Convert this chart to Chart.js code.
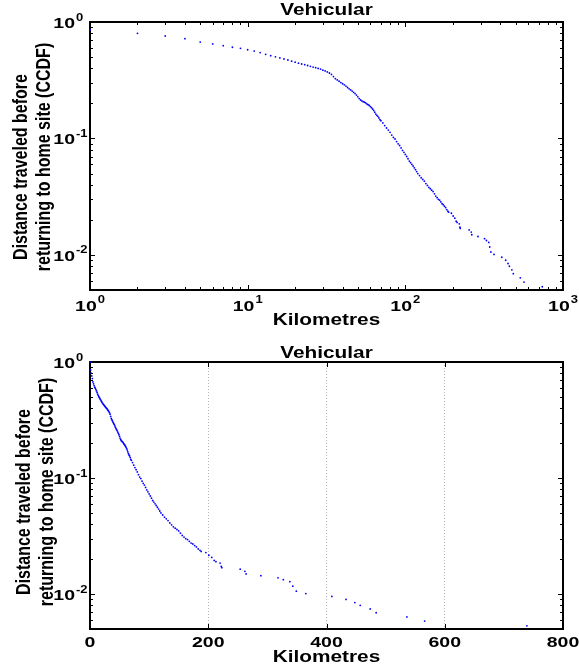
<!DOCTYPE html>
<html>
<head>
<meta charset="utf-8">
<title>Vehicular CCDF</title>
<script src="https://cdn.jsdelivr.net/npm/chart.js@4.4.0/dist/chart.umd.min.js"></script>
<style>
  body { margin: 0; background: #fff; }
  #wrap { position: relative; width: 579px; height: 671px; }
  .panel { position: absolute; left: 0; width: 579px; }
</style>
</head>
<body>
<div id="wrap">
  <div class="panel" style="top:0;height:335px"><canvas id="logChart"></canvas></div>
  <div class="panel" style="top:335px;height:336px"><canvas id="linChart"></canvas></div>
</div>
<script>
"use strict";

// Distance (km) and CCDF
const km = [0, 1, 2, 3, 4, 5, 6, 7, 8, 9, 10, 11, 12, 13, 14, 15, 16, 17, 18, 19, 20,
  21, 22, 23, 24, 25, 26, 27, 28, 29, 30,
  31, 32, 33, 34, 35, 36, 37, 38, 39, 40, 41, 42, 43, 44, 45, 46, 47, 48, 49, 50,
  51, 52, 53, 54, 55, 56, 57, 58, 59, 60, 61, 62, 63, 64, 65, 66, 67, 68, 69, 70,
  72, 74, 76, 78, 80, 82, 84, 86, 88, 90, 92, 94, 96, 98, 100, 102, 104, 106, 108, 110,
  112, 114, 116, 118, 120,
  123, 126, 129, 132, 135, 138, 141, 144, 147, 150, 153, 156, 159, 162, 165, 168, 171,
  174, 177, 180, 183, 186,
  188, 196, 201, 206, 210, 213, 220, 222, 223, 254, 262, 264, 289, 318, 327, 338, 343,
  349, 365, 409, 433, 448, 457, 474, 484, 536, 566, 739];
const ccdf = [1.0, 0.854, 0.80, 0.758, 0.719, 0.673, 0.648, 0.626, 0.607, 0.594, 0.578,
  0.563, 0.546, 0.528, 0.514, 0.502, 0.492, 0.481, 0.472, 0.461, 0.452,
  0.443, 0.436, 0.430, 0.423, 0.416, 0.410, 0.405, 0.399, 0.394, 0.386,
  0.380, 0.373, 0.365, 0.355, 0.340, 0.326, 0.318, 0.310, 0.302, 0.295,
  0.289, 0.282, 0.274, 0.267, 0.261, 0.255, 0.249, 0.243, 0.236, 0.228,
  0.220, 0.214, 0.210, 0.207, 0.205, 0.202, 0.198, 0.195, 0.192, 0.188,
  0.184, 0.179, 0.174, 0.168, 0.162, 0.158, 0.155, 0.150, 0.145, 0.142,
  0.136, 0.129, 0.123, 0.118, 0.113, 0.107, 0.102, 0.099, 0.094, 0.090,
  0.087, 0.083, 0.079, 0.076, 0.073, 0.070, 0.067, 0.064, 0.062, 0.060,
  0.058, 0.056, 0.054, 0.052, 0.050,
  0.048, 0.046, 0.0445, 0.043, 0.041, 0.0395, 0.038, 0.037, 0.036, 0.035,
  0.0335, 0.032, 0.031, 0.030, 0.0295, 0.0285, 0.0275, 0.027, 0.0262, 0.0255,
  0.0245, 0.0238,
  0.0233, 0.0228, 0.0216, 0.0207, 0.0195, 0.0190, 0.0185, 0.0173, 0.0169,
  0.0164, 0.0157, 0.0149, 0.0144, 0.0138, 0.0133, 0.0128, 0.0117, 0.0106, 0.0101,
  0.00955, 0.0090, 0.00844, 0.0080, 0.00745, 0.0069, 0.00636, 0.00585, 0.00533];

const logXTicks = [1, 10, 100, 1000];
const logYTicks = [0.01, 0.1, 1];
const linXTicks = [0, 200, 400, 600, 800];

const chartTitle = 'Vehicular';
const xTitle = 'Kilometres';
const yTitle = ['Distance traveled before', 'returning to home site (CCDF)'];

// the original figure's lettering is widened horizontally
const SX = 1.3;
const FONT = '"Liberation Sans", Arial, sans-serif';

function text(ctx, str, x, y, size, align, rotate) {
    ctx.save();
    ctx.translate(x, y);
    ctx.scale(SX, 1);
    if (rotate) ctx.rotate(-Math.PI / 2);
    ctx.font = 'bold ' + size + 'px ' + FONT;
    ctx.textAlign = align;
    ctx.textBaseline = 'alphabetic';
    ctx.fillText(str, 0, 0);
    ctx.restore();
}

function textWidth(ctx, str, size) {
    ctx.font = 'bold ' + size + 'px ' + FONT;
    return ctx.measureText(str).width * SX;
}

// "10" with a raised exponent
function power(ctx, v, x, y, align) {
    const exp = String(Math.round(Math.log10(v)));
    const wb = textWidth(ctx, '10', 15);
    const we = textWidth(ctx, exp, 10);
    const x0 = align === 'center' ? x - (wb + 1 + we) / 2 : x - wb;
    text(ctx, '10', x0, y, 15, 'left');
    text(ctx, exp, x0 + wb + 1, y - 7.5, 10, 'left');
}

// majors plus the 2..9 minor steps of each decade
function logTickList(majors, min, max) {
    const list = [];
    const starts = [majors[0] / 10].concat(majors);
    starts.forEach(function (m, i) {
        if (i > 0) list.push({ value: m, major: true });
        for (let k = 2; k <= 9; k++) {
            const v = +(m * k).toPrecision(6);
            if (v > min && v < max) list.push({ value: v, major: false });
        }
    });
    return list;
}

// box and inward ticks on all sides go under the dots,
// tick labels and titles are written around the plot
const frame = {
    id: 'frame',
    beforeDatasetsDraw(chart, args, o) {
        const ctx = chart.ctx;
        const a = chart.chartArea;
        const x = chart.scales.x, y = chart.scales.y;
        ctx.save();
        ctx.strokeStyle = '#000';
        ctx.lineWidth = 1;
        ctx.beginPath();
        x.ticks.forEach(function (t) {
            const px = Math.round(x.getPixelForValue(t.value)) + 0.5;
            const len = t.major ? 5 : 3;
            ctx.moveTo(px, a.bottom); ctx.lineTo(px, a.bottom - len);
            ctx.moveTo(px, a.top); ctx.lineTo(px, a.top + len);
        });
        y.ticks.forEach(function (t) {
            const py = Math.round(y.getPixelForValue(t.value)) + 0.5;
            const len = t.major ? 5 : 3;
            ctx.moveTo(a.left, py); ctx.lineTo(a.left + len, py);
            ctx.moveTo(a.right, py); ctx.lineTo(a.right - len, py);
        });
        ctx.stroke();
        ctx.lineWidth = 2;
        ctx.strokeRect(a.left, a.top, a.right - a.left, a.bottom - a.top);

        ctx.fillStyle = '#000';
        x.ticks.filter(t => t.major).forEach(function (t) {
            const px = x.getPixelForValue(t.value);
            if (o.xLog) power(ctx, t.value, px, o.xLabelY, 'center');
            else text(ctx, String(t.value), px, o.xLabelY, 15, 'center');
        });
        y.ticks.filter(t => t.major).forEach(function (t) {
            power(ctx, t.value, 75, y.getPixelForValue(t.value) + 6, 'right');
        });

        const cx = (a.left + a.right) / 2;
        text(ctx, chartTitle, cx, o.titleY, 16, 'center');
        text(ctx, xTitle, cx, o.xTitleY, 16, 'center');
        text(ctx, yTitle[0], o.yTitleX[0], 167, 16, 'center', true);
        text(ctx, yTitle[1], o.yTitleX[1], 157, 16, 'center', true);
        ctx.restore();
    }
};

const points = km.map((k, i) => ({ x: k, y: ccdf[i] }));

function dataset(pts) {
    return {
        data: pts,
        pointRadius: 0.9,
        pointBorderWidth: 0,
        pointBackgroundColor: 'rgb(0, 0, 255)',
        showLine: false,
        clip: 2
    };
}

const hidden = { display: false };
const noGrid = { display: false, drawTicks: false };
const yScale = {
    type: 'logarithmic',
    min: 0.005,
    max: 1,
    afterBuildTicks: s => { s.ticks = logTickList(logYTicks, 0.005, 1.0001); },
    ticks: { display: false },
    grid: noGrid,
    border: hidden
};

// Log-log panel
new Chart(document.getElementById('logChart'), {
    type: 'scatter',
    data: { datasets: [dataset(points.filter(p => p.x > 0))] },
    options: {
        responsive: true,
        maintainAspectRatio: false,
        animation: false,
        events: [],
        layout: { padding: { left: 90, right: 16, top: 22, bottom: 45 } },
        scales: {
            x: {
                type: 'logarithmic',
                min: 1,
                max: 1000,
                afterBuildTicks: s => { s.ticks = logTickList(logXTicks, 1, 1000.1); },
                ticks: { display: false },
                grid: noGrid,
                border: hidden
            },
            y: yScale
        },
        plugins: {
            legend: hidden,
            tooltip: { enabled: false },
            frame: { xLog: true, xLabelY: 310.5, titleY: 15.2, xTitleY: 325, yTitleX: [27, 50] }
        }
    },
    plugins: [frame]
});

// Linear-x panel
new Chart(document.getElementById('linChart'), {
    type: 'scatter',
    data: { datasets: [dataset(points)] },
    options: {
        responsive: true,
        maintainAspectRatio: false,
        animation: false,
        events: [],
        layout: { padding: { left: 90, right: 16, top: 27, bottom: 42 } },
        scales: {
            x: {
                type: 'linear',
                min: 0,
                max: 800,
                afterBuildTicks: s => { s.ticks = linXTicks.map(v => ({ value: v, major: true })); },
                ticks: { display: false },
                grid: {
                    drawTicks: false,
                    lineWidth: 1,
                    color: c => (c.tick && c.tick.value % 800 !== 0) ? '#b4b4b4' : 'rgba(0,0,0,0)'
                },
                border: { display: false, dash: [1, 2] }
            },
            y: Object.assign({}, yScale)
        },
        plugins: {
            legend: hidden,
            tooltip: { enabled: false },
            frame: { xLog: false, xLabelY: 312.3, titleY: 23.3, xTitleY: 327, yTitleX: [30, 53] }
        }
    },
    plugins: [frame]
});
</script>
</body>
</html>
